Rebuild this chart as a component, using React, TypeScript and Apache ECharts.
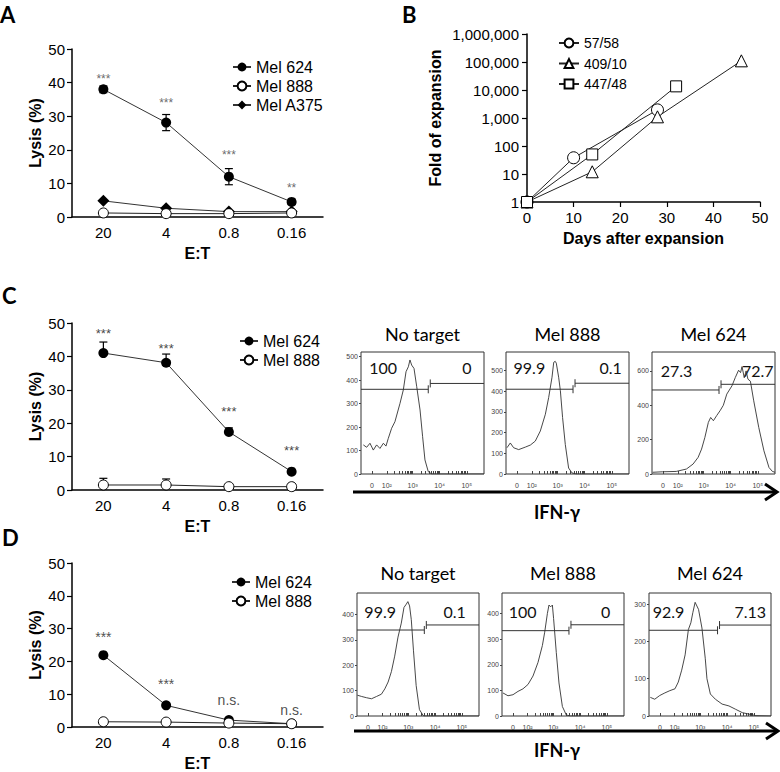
import React, { useEffect, useRef } from "react";
import * as echarts from "echarts";

const FONT = "'Liberation Sans', Arial, sans-serif";
const CAL = "Lato, 'Noto Sans', sans-serif";

// ---------- Lysis panels (A, C, D) ----------
const etCategories = ["20", "4", "0.8", "0.16"];

const aMel624 = [38.0, 28.1, 12.0, 4.5];
const aMel624Err = [1.0, 2.4, 2.4, 0.8];
const aMel888 = [1.2, 1.0, 1.0, 1.2];
const aMelA375 = [4.8, 2.6, 1.6, 1.6];
const aSig = ["***", "***", "***", "**"];
const aSigY = [41.1, 33.9, 18.5, 8.6];

const cMel624 = [41.0, 38.1, 17.4, 5.5];
const cMel624Err = [3.3, 2.6, 1.2, 0.5];
const cMel888 = [1.5, 1.5, 1.0, 1.0];
const cMel888Err = [2.0, 1.8, 0, 0];
const cSig = ["***", "***", "***", "***"];
const cSigY = [47.0, 42.5, 23.4, 11.8];

const dMel624 = [21.9, 6.6, 2.1, 1.0];
const dMel888 = [1.6, 1.5, 1.2, 1.0];
const dSig = ["***", "***", "n.s.", "n.s."];
const dSigY = [27.4, 13.1, 8.3, 5.3];

// ---------- Expansion panel (B) ----------
const bDays5758 = [0, 10, 28];
const bFold5758 = [1, 38, 1950];
const bDays40910 = [0, 14, 28, 46];
const bFold40910 = [1, 12, 1100, 110000];
const bDays44748 = [0, 14, 32];
const bFold44748 = [1, 50, 13500];

// ---------- Flow histograms ----------
const flowTitles = ["No target", "Mel 888", "Mel 624"];
const flowTickPos = [9, 21, 42, 64, 86];
const flowTickLabels = ["0", "10\u00b2", "10\u00b3", "10\u2074", "10\u2075"];

const histCNoTarget = [[1.9,124],[4.6,114],[7.3,131],[10,102],[12.7,124],[15.4,109],[18.2,131],[20.3,119],[22.2,152],[24.9,195],[27.6,223],[31.7,301],[34.4,358],[36.6,436],[38.5,457],[39.8,486],[41.2,464],[43.1,450],[45.3,372],[48,273],[50.1,159],[52,60],[54.7,10],[57.5,0],[100,0]];
const histCMel888 = [[0.8,127],[3.5,150],[6.2,127],[10.3,118],[15.7,130],[19.8,140],[23.8,159],[27.9,208],[32,289],[34.7,370],[37.4,468],[38.8,540],[40,545],[40.9,536],[42.8,468],[44.2,403],[46,273],[48.2,143],[50.9,29],[53.7,5],[57,0],[100,0]];
const histCMel624 = [[0.5,10],[8.7,13],[19.7,15],[28,29],[33.4,58],[37.5,97],[40.3,145],[43,213],[45.8,300],[47.7,329],[49.9,310],[52.6,340],[55.3,368],[58,400],[60.8,465],[65,513],[67.7,561],[70.4,604],[72,590],[73.2,625],[75,560],[76.5,600],[78,552],[80,540],[82.7,426],[86.8,271],[91,135],[95.1,38],[97.9,15],[100,10]];
const histDNoTarget = [[0.3,82],[3.8,77],[7.9,72],[11.9,68],[16,77],[20,86],[22.8,107],[25.5,134],[28.2,175],[30.9,236],[33.6,311],[36.3,366],[38.5,428],[40.4,441],[41.7,451],[43.1,434],[44.5,380],[46.3,257],[48.5,120],[51.2,25],[54.5,0],[100,0]];
const histDMel888 = [[0.8,90],[4.9,79],[9,83],[13.1,96],[17.2,106],[21.3,123],[25.4,156],[29.5,209],[33.1,275],[35,327],[37.2,400],[38.5,433],[39.9,426],[41.3,433],[42.3,380],[44.5,248],[46.7,129],[49.5,37],[52.7,4],[56,0],[100,0]];
const histDMel624 = [[1.1,50],[4.7,45],[8.8,55],[13,62],[17.1,68],[21.3,73],[24,91],[26.8,123],[29.6,164],[32.3,232],[34.3,250],[35.9,277],[37.8,305],[40.6,286],[43.4,236],[46.1,155],[47.5,100],[50.3,59],[54.4,45],[59.9,32],[65.5,27],[71,18],[76.5,9],[82,5],[87.6,1],[100,0]];

// gate: [split position, left gate level, right gate level]
const gatesC = [[55.5, 361, 386], [55.3, 410, 439], [55.3, 489, 522]];
const gatesD = [[56, 339, 359], [55.7, 333, 356], [57, 230, 244]];
const pctC = [["100", "0"], ["99.9", "0.1"], ["27.3", "72.7"]];
const pctD = [["99.9", "0.1"], ["100", "0"], ["92.9", "7.13"]];
const yMaxC = [520, 590, 710];
const yIntC = [100, 100, 200];
const yMaxD = [485, 480, 330];
const yIntD = [100, 100, 100];

// layout (pixels)
const gridA = { left: 72, top: 49, width: 251, height: 168 };
const gridB = { left: 527, top: 34, width: 233, height: 168 };
const gridC = { left: 72, top: 323, width: 251, height: 167 };
const gridD = { left: 72, top: 563, width: 251, height: 166 };
const flowBoxesC = [361, 506, 652].map((l) => ({ left: l, top: 352, width: 123, height: 122 }));
const flowBoxesD = [357, 502, 649].map((l) => ({ left: l, top: 593, width: 122, height: 123 }));
const pctFracC = [[0.18, 0.86], [0.19, 0.85], [0.2, 0.86]];
const pctFracD = [[0.19, 0.8], [0.17, 0.85], [0.16, 0.83]];

const nameStyle = { fontWeight: "bold", fontSize: 16, fontFamily: FONT, color: "#000" };

function minorTicks() {
  const out: number[] = [...flowTickPos];
  for (let d = 1; d < flowTickPos.length - 1; d++) {
    const p = flowTickPos[d], q = flowTickPos[d + 1];
    for (let k = 2; k <= 9; k++) out.push(p + Math.log10(k) * (q - p));
  }
  return out;
}

const catAxis = (gridIndex: number) => ({
  type: "category", gridIndex, data: etCategories, boundaryGap: true,
  name: "E:T", nameLocation: "middle", nameGap: 28, nameTextStyle: nameStyle,
  axisLine: { lineStyle: { color: "#000", width: 1.5 } },
  axisTick: { alignWithLabel: true, length: 5, lineStyle: { color: "#000", width: 1.2 } },
  axisLabel: { fontSize: 15, color: "#000", margin: 8, fontFamily: FONT },
});
const lysisAxis = (gridIndex: number) => ({
  type: "value", gridIndex, min: 0, max: 50, interval: 10,
  name: "Lysis (%)", nameLocation: "middle", nameGap: 29, nameTextStyle: nameStyle,
  axisLine: { show: true, lineStyle: { color: "#000", width: 1.5 } },
  axisTick: { show: true, length: 5, lineStyle: { color: "#000", width: 1.2 } },
  axisLabel: { fontSize: 15, color: "#000", margin: 7, fontFamily: FONT },
  splitLine: { show: false },
});

const errRender = (sym: boolean) => (params: any, api: any) => {
  const i = api.value(0), m = api.value(1), e = api.value(2);
  if (!e) return { type: "group", children: [] };
  const top = api.coord([i, m + e]);
  const bot = api.coord([i, sym ? m - e : m]);
  const w = 4;
  const st = { stroke: "#000", lineWidth: 1.2 };
  const children: any[] = [
    { type: "line", shape: { x1: top[0], y1: top[1], x2: bot[0], y2: bot[1] }, style: st },
    { type: "line", shape: { x1: top[0] - w, y1: top[1], x2: top[0] + w, y2: top[1] }, style: st },
  ];
  if (sym) children.push({ type: "line", shape: { x1: bot[0] - w, y1: bot[1], x2: bot[0] + w, y2: bot[1] }, style: st });
  return { type: "group", children };
};

const gateRender = (pcts: string[], fr: number[], dy: number) => (params: any, api: any) => {
  const cs = params.coordSys;
  const split = api.value(0), gl = api.value(1), gr = api.value(2);
  const pl = api.coord([split, gl]);
  const pr = api.coord([split, gr]);
  const x0 = cs.x, x1 = cs.x + cs.width;
  const st = { stroke: "#333", lineWidth: 1 };
  const ts = { fontSize: 16, fontFamily: CAL, fill: "#111", align: "center", verticalAlign: "middle" };
  return {
    type: "group",
    children: [
      { type: "line", shape: { x1: x0, y1: pl[1], x2: pl[0] - 1, y2: pl[1] }, style: st },
      { type: "line", shape: { x1: pl[0] - 1, y1: pl[1] - 4, x2: pl[0] - 1, y2: pl[1] + 4 }, style: st },
      { type: "line", shape: { x1: pr[0] + 1, y1: pr[1], x2: x1, y2: pr[1] }, style: st },
      { type: "line", shape: { x1: pr[0] + 1, y1: pr[1] - 4, x2: pr[0] + 1, y2: pr[1] + 4 }, style: st },
      { type: "text", style: { ...ts, text: pcts[0], x: x0 + fr[0] * cs.width, y: cs.y + dy } },
      { type: "text", style: { ...ts, text: pcts[1], x: x0 + fr[1] * cs.width, y: cs.y + dy } },
    ],
  };
};

function buildOption() {
  const grids: any[] = [gridA, gridB, gridC, gridD];
  const flowBoxes = [...flowBoxesC, ...flowBoxesD];
  flowBoxes.forEach((b) => grids.push({ ...b, show: true, borderColor: "#333", borderWidth: 1, backgroundColor: "transparent" }));

  const xAxes: any[] = [
    catAxis(0),
    {
      type: "value", gridIndex: 1, min: 0, max: 50, interval: 10,
      name: "Days after expansion", nameLocation: "middle", nameGap: 28, nameTextStyle: nameStyle,
      axisLine: { lineStyle: { color: "#000", width: 1.5 } },
      axisTick: { length: 5, lineStyle: { color: "#000", width: 1.2 } },
      axisLabel: { fontSize: 15, color: "#000", margin: 8, fontFamily: FONT },
      splitLine: { show: false },
    },
    catAxis(2),
    catAxis(3),
  ];
  const yAxes: any[] = [
    lysisAxis(0),
    {
      type: "log", gridIndex: 1, min: 1, max: 1000000, logBase: 10,
      name: "Fold of expansion", nameLocation: "middle", nameGap: 84, nameTextStyle: nameStyle,
      axisLine: { show: true, lineStyle: { color: "#000", width: 1.5 } },
      axisTick: { show: true, length: 5, lineStyle: { color: "#000", width: 1.2 } },
      axisLabel: {
        fontSize: 15, color: "#000", margin: 8, fontFamily: FONT,
        formatter: (v: number) => String(Math.round(v)).replace(/\B(?=(\d{3})+(?!\d))/g, ","),
      },
      splitLine: { show: false },
      minorTick: { show: false },
    },
    lysisAxis(2),
    lysisAxis(3),
  ];

  const mTicks = minorTicks();
  const yMax = [...yMaxC, ...yMaxD];
  const yInt = [...yIntC, ...yIntD];
  flowBoxes.forEach((_, k) => {
    const gi = 4 + k;
    xAxes.push({
      type: "value", gridIndex: gi, min: 0, max: 100,
      axisLine: { show: false },
      axisTick: { show: true, inside: true, length: 3, customValues: mTicks, lineStyle: { color: "#444" } },
      axisLabel: {
        show: true, customValues: flowTickPos, fontSize: 7, color: "#444", margin: 8, fontFamily: FONT,
        formatter: (v: number) => {
          const idx = flowTickPos.findIndex((p) => Math.abs(p - v) < 1e-6);
          return idx >= 0 ? flowTickLabels[idx] : "";
        },
      },
      splitLine: { show: false },
    });
    yAxes.push({
      type: "value", gridIndex: gi, min: 0, max: yMax[k], interval: yInt[k],
      axisLine: { show: false },
      axisTick: { show: true, length: 2, lineStyle: { color: "#444" } },
      axisLabel: { fontSize: 7, color: "#444", margin: 3, showMaxLabel: false, fontFamily: FONT },
      splitLine: { show: false },
    });
  });

  const filled = (ai: number, name: string, data: number[], symbol = "circle", size = 10) => ({
    type: "line", name, xAxisIndex: ai, yAxisIndex: ai, data, symbol, symbolSize: size,
    itemStyle: { color: "#000" }, lineStyle: { color: "#333", width: 1 }, z: 3,
  });
  const open = (ai: number, name: string, data: any[], symbol = "circle", size = 10) => ({
    type: "line", name, xAxisIndex: ai, yAxisIndex: ai, data, symbol, symbolSize: size,
    itemStyle: { color: "#fff", borderColor: "#000", borderWidth: 1 }, lineStyle: { color: "#222", width: 1 }, z: 4,
  });
  const errSeries = (ai: number, mean: number[], err: number[], sym: boolean) => ({
    type: "custom", xAxisIndex: ai, yAxisIndex: ai, z: 1, silent: true,
    encode: { x: 0, y: 1 },
    data: mean.map((m, i) => [i, m, err[i]]),
    renderItem: errRender(sym),
  });
  const sigSeries = (ai: number, ys: number[], labels: string[], fs: number, color: string) => ({
    type: "scatter", xAxisIndex: ai, yAxisIndex: ai, silent: true, symbolSize: 1,
    itemStyle: { color: "transparent" },
    data: ys.map((y, i) => [i, y]),
    label: {
      show: true, position: "inside", color, fontSize: fs, fontFamily: FONT,
      formatter: (p: any) => labels[p.dataIndex],
    },
  });

  const series: any[] = [
    // A
    errSeries(0, aMel624, aMel624Err, true),
    filled(0, "Mel 624", aMel624),
    open(0, "Mel 888", aMel888),
    filled(0, "Mel A375", aMelA375, "diamond", 12),
    sigSeries(0, aSigY, aSig, 12, "#444"),
    // B
    open(1, "57/58", bDays5758.map((d, i) => [d, bFold5758[i]]), "circle", 12),
    open(1, "409/10", bDays40910.map((d, i) => [d, bFold40910[i]]), "triangle", 12),
    open(1, "447/48", bDays44748.map((d, i) => [d, bFold44748[i]]), "rect", 11),
    // C
    errSeries(2, cMel624, cMel624Err, false),
    errSeries(2, cMel888, cMel888Err, false),
    filled(2, "Mel 624", cMel624),
    open(2, "Mel 888", cMel888),
    sigSeries(2, cSigY, cSig, 13, "#111"),
    // D
    filled(3, "Mel 624", dMel624),
    open(3, "Mel 888", dMel888),
    sigSeries(3, dSigY, dSig, 14, "#222"),
  ];

  const hists = [histCNoTarget, histCMel888, histCMel624, histDNoTarget, histDMel888, histDMel624];
  const gates = [...gatesC, ...gatesD];
  const pcts = [...pctC, ...pctD];
  const fracs = [...pctFracC, ...pctFracD];
  hists.forEach((h, k) => {
    const gi = 4 + k;
    series.push({
      type: "line", xAxisIndex: gi, yAxisIndex: gi, data: h, showSymbol: false, symbol: "none",
      lineStyle: { color: "#333", width: 0.9 }, silent: true,
    });
    series.push({
      type: "custom", xAxisIndex: gi, yAxisIndex: gi, silent: true, encode: { x: 0, y: 1 },
      data: [gates[k]], renderItem: gateRender(pcts[k], fracs[k], k < 3 ? (k === 2 ? 18 : 15) : 18),
    });
  });

  const legendBase = {
    orient: "vertical", selectedMode: false, itemWidth: 18, itemHeight: 11, itemGap: 3,
    textStyle: { fontSize: 16, fontFamily: FONT, color: "#000", lineHeight: 16 },
  };
  const legends = [
    { ...legendBase, data: ["Mel 624", "Mel 888", "Mel A375"], left: 227, top: 54 },
    { ...legendBase, data: ["57/58", "409/10", "447/48"], left: 553, top: 31, itemWidth: 20, itemGap: 6.5,
      textStyle: { fontSize: 14, fontFamily: FONT, color: "#000", lineHeight: 14 } },
    { ...legendBase, data: ["Mel 624", "Mel 888"], left: 234, top: 328 },
    { ...legendBase, data: ["Mel 624", "Mel 888"], left: 226, top: 569 },
  ];

  const letter = (t: string, x: number, y: number) => ({
    type: "text", x, y,
    style: { text: t, fontSize: 22, fontWeight: "bold", fontFamily: CAL, fill: "#000", verticalAlign: "middle" },
  });
  const graphics: any[] = [
    letter("A", 0, 14), letter("B", 402, 14), letter("C", 2, 295), letter("D", 2, 537.5),
  ];
  [flowBoxesC, flowBoxesD].forEach((boxes, r) => {
    boxes.forEach((b, k) => {
      graphics.push({
        type: "text", x: b.left + b.width / 2, y: r === 0 ? 334 : 573,
        style: { text: flowTitles[k], fontSize: 18, fontFamily: CAL, fill: "#000", align: "center", verticalAlign: "middle" },
      });
    });
    const ay = r === 0 ? 492 : 731;
    const ax0 = r === 0 ? 353 : 354;
    const ax1 = r === 0 ? 777 : 778;
    graphics.push({ type: "line", shape: { x1: ax0, y1: ay, x2: ax1 - 2, y2: ay }, style: { stroke: "#000", lineWidth: 3 } });
    graphics.push({
      type: "polyline", shape: { points: [[ax1 - 12, ay - 8], [ax1, ay], [ax1 - 12, ay + 8]] },
      style: { stroke: "#000", lineWidth: 3, fill: "none" },
    });
    graphics.push({
      type: "text", x: 557, y: r === 0 ? 512 : 750,
      style: { text: "IFN-\u03b3", fontSize: 18, fontWeight: "bold", fontFamily: CAL, fill: "#000", align: "center", verticalAlign: "middle" },
    });
  });

  return {
    animation: false,
    backgroundColor: "#fff",
    textStyle: { fontFamily: FONT },
    grid: grids,
    xAxis: xAxes,
    yAxis: yAxes,
    legend: legends,
    series,
    graphic: graphics,
  };
}

export default function App() {
  const ref = useRef<HTMLDivElement>(null);
  useEffect(() => {
    if (!ref.current) return;
    const chart = echarts.init(ref.current, undefined, { renderer: "svg" });
    chart.setOption(buildOption() as any);
    return () => chart.dispose();
  }, []);
  return (
    <div
      ref={ref}
      style={{ position: "absolute", left: 0, top: 0, width: 780, height: 772, background: "#fff" }}
    />
  );
}
